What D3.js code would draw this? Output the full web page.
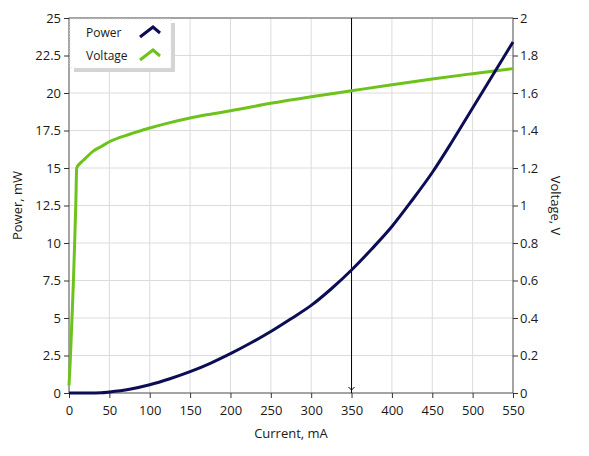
<!DOCTYPE html>
<html>
<head>
<meta charset="utf-8">
<script src="https://cdn.jsdelivr.net/npm/d3@7"></script>
<style>
  body { margin: 0; background: #fff; }
  text { font-family: "Open Sans", "DejaVu Sans", sans-serif; fill: #1a1a1a; }
</style>
</head>
<body>
<div id="chart"></div>
<script>
// Power curve samples (current in mA, power in mW)
var powerCurrent = [0, 25, 40, 50, 75, 100, 125, 150, 175, 200, 225, 250, 275, 300, 325, 350, 375, 400, 425, 450, 475, 500, 525, 550];
var powerValues = [0, 0, 0.02, 0.07, 0.25, 0.55, 0.95, 1.42, 1.98, 2.62, 3.33, 4.1, 4.95, 5.84, 6.95, 8.2, 9.6, 11.1, 12.85, 14.7, 16.8, 19.0, 21.2, 23.4];

// Voltage curve samples (current in mA, voltage in V)
var voltageCurrent = [0, 1, 2.5, 4, 5.5, 7, 8.5, 9.5, 15, 20, 30, 40, 50, 75, 100, 125, 150, 175, 200, 250, 300, 350, 400, 450, 500, 550];
var voltageValues = [0.04, 0.12, 0.27, 0.43, 0.6, 0.8, 1.02, 1.2, 1.23, 1.25, 1.29, 1.315, 1.34, 1.38, 1.413, 1.442, 1.467, 1.487, 1.505, 1.545, 1.58, 1.612, 1.644, 1.675, 1.703, 1.73];

// Tick values
var xTicks = [0, 50, 100, 150, 200, 250, 300, 350, 400, 450, 500, 550];
var powerTicks = [0, 2.5, 5, 7.5, 10, 12.5, 15, 17.5, 20, 22.5, 25];
var voltageTicks = [0, 0.2, 0.4, 0.6, 0.8, 1, 1.2, 1.4, 1.6, 1.8, 2];

var seriesNames = ["Power", "Voltage"];
var cursorCurrent = 350;

var svgWidth = 589;
var svgHeight = 456;
var margin = { top: 18, right: 76, bottom: 63, left: 69 };
var chartWidth = svgWidth - margin.left - margin.right;
var chartHeight = svgHeight - margin.top - margin.bottom;

var powerColor = "#0d0d55";
var voltageColor = "#6ec21c";

var svg = d3.select("#chart").append("svg")
    .attr("width", svgWidth)
    .attr("height", svgHeight);

var chartGroup = svg.append("g")
    .attr("transform", `translate(${margin.left}, ${margin.top})`);

var xScale = d3.scaleLinear().domain([0, 550]).range([0, chartWidth]);
var yPower = d3.scaleLinear().domain([0, 25]).range([chartHeight, 0]);
var yVoltage = d3.scaleLinear().domain([0, 2]).range([chartHeight, 0]);

// Grid
chartGroup.append("g").selectAll("line")
    .data(xTicks)
    .enter().append("line")
    .attr("x1", d => xScale(d)).attr("x2", d => xScale(d))
    .attr("y1", 0).attr("y2", chartHeight)
    .attr("stroke", "#dcdcdc").attr("stroke-width", 1);

chartGroup.append("g").selectAll("line")
    .data(powerTicks)
    .enter().append("line")
    .attr("x1", 0).attr("x2", chartWidth)
    .attr("y1", d => yPower(d)).attr("y2", d => yPower(d))
    .attr("stroke", "#dcdcdc").attr("stroke-width", 1);

// Frame
chartGroup.append("rect")
    .attr("width", chartWidth).attr("height", chartHeight)
    .attr("fill", "none").attr("stroke", "#5a5a5a").attr("stroke-width", 1);

// Axes
function styleAxis(g) {
    g.select(".domain").remove();
    g.selectAll(".tick line").attr("stroke", "#333");
    g.selectAll(".tick text").style("font-size", "13px").attr("fill", "#1a1a1a");
}

chartGroup.append("g")
    .attr("transform", `translate(0, ${chartHeight})`)
    .call(d3.axisBottom(xScale).tickValues(xTicks).tickSize(5).tickPadding(8))
    .call(styleAxis);

chartGroup.append("g")
    .call(d3.axisLeft(yPower).tickValues(powerTicks).tickSize(5).tickPadding(3).tickFormat(d3.format("~g")))
    .call(styleAxis);

chartGroup.append("g")
    .attr("transform", `translate(${chartWidth}, 0)`)
    .call(d3.axisRight(yVoltage).tickValues(voltageTicks).tickSize(5).tickPadding(2).tickFormat(d3.format("~g")))
    .call(styleAxis);

// Cursor
chartGroup.append("line")
    .attr("x1", xScale(cursorCurrent)).attr("x2", xScale(cursorCurrent))
    .attr("y1", 0).attr("y2", chartHeight)
    .attr("stroke", "#000").attr("stroke-width", 1);
chartGroup.append("path")
    .attr("d", `M${xScale(cursorCurrent) - 3},${chartHeight - 6} L${xScale(cursorCurrent)},${chartHeight - 3} L${xScale(cursorCurrent) + 3},${chartHeight - 6}`)
    .attr("fill", "none").attr("stroke", "#000").attr("stroke-width", 1);

// Lines
var powerLine = d3.line()
    .x((d, i) => xScale(powerCurrent[i]))
    .y(d => yPower(d))
    .curve(d3.curveMonotoneX);

var voltageLine = d3.line()
    .x((d, i) => xScale(voltageCurrent[i]))
    .y(d => yVoltage(d))
    .curve(d3.curveMonotoneX);

chartGroup.append("path")
    .datum(voltageValues)
    .attr("d", voltageLine)
    .attr("fill", "none").attr("stroke", voltageColor).attr("stroke-width", 3);

chartGroup.append("path")
    .datum(powerValues)
    .attr("d", powerLine)
    .attr("fill", "none").attr("stroke", powerColor).attr("stroke-width", 3);

// Legend
var legend = svg.append("g").attr("transform", "translate(70, 19)");
legend.append("rect")
    .attr("x", 4).attr("y", 4).attr("width", 101).attr("height", 49)
    .attr("fill", "#d4d4d4");
legend.append("rect")
    .attr("x", 0).attr("y", 0).attr("width", 101).attr("height", 49)
    .attr("fill", "#fff").attr("stroke", "#e4e4e4").attr("stroke-dasharray", "1,2");

var legendItems = legend.selectAll(".item")
    .data(seriesNames)
    .enter().append("g")
    .attr("class", "item")
    .attr("transform", (d, i) => `translate(0, ${i * 23})`);

legendItems.append("text")
    .attr("x", 16).attr("y", 18)
    .style("font-size", "12px")
    .text(d => d);

legendItems.append("path")
    .attr("d", "M70,18 L83,8 L90,14")
    .attr("fill", "none")
    .attr("stroke", (d, i) => i === 0 ? powerColor : voltageColor)
    .attr("stroke-width", 3);

// Axis titles
svg.append("text")
    .attr("transform", `translate(22, ${margin.top + chartHeight / 2}) rotate(-90)`)
    .attr("text-anchor", "middle")
    .style("font-size", "13px")
    .text("Power, mW");

svg.append("text")
    .attr("transform", `translate(551, ${margin.top + chartHeight / 2}) rotate(90)`)
    .attr("text-anchor", "middle")
    .style("font-size", "13px")
    .text("Voltage, V");

svg.append("text")
    .attr("x", margin.left + chartWidth / 2)
    .attr("y", 438)
    .attr("text-anchor", "middle")
    .style("font-size", "13px")
    .text("Current, mA");
</script>
</body>
</html>
